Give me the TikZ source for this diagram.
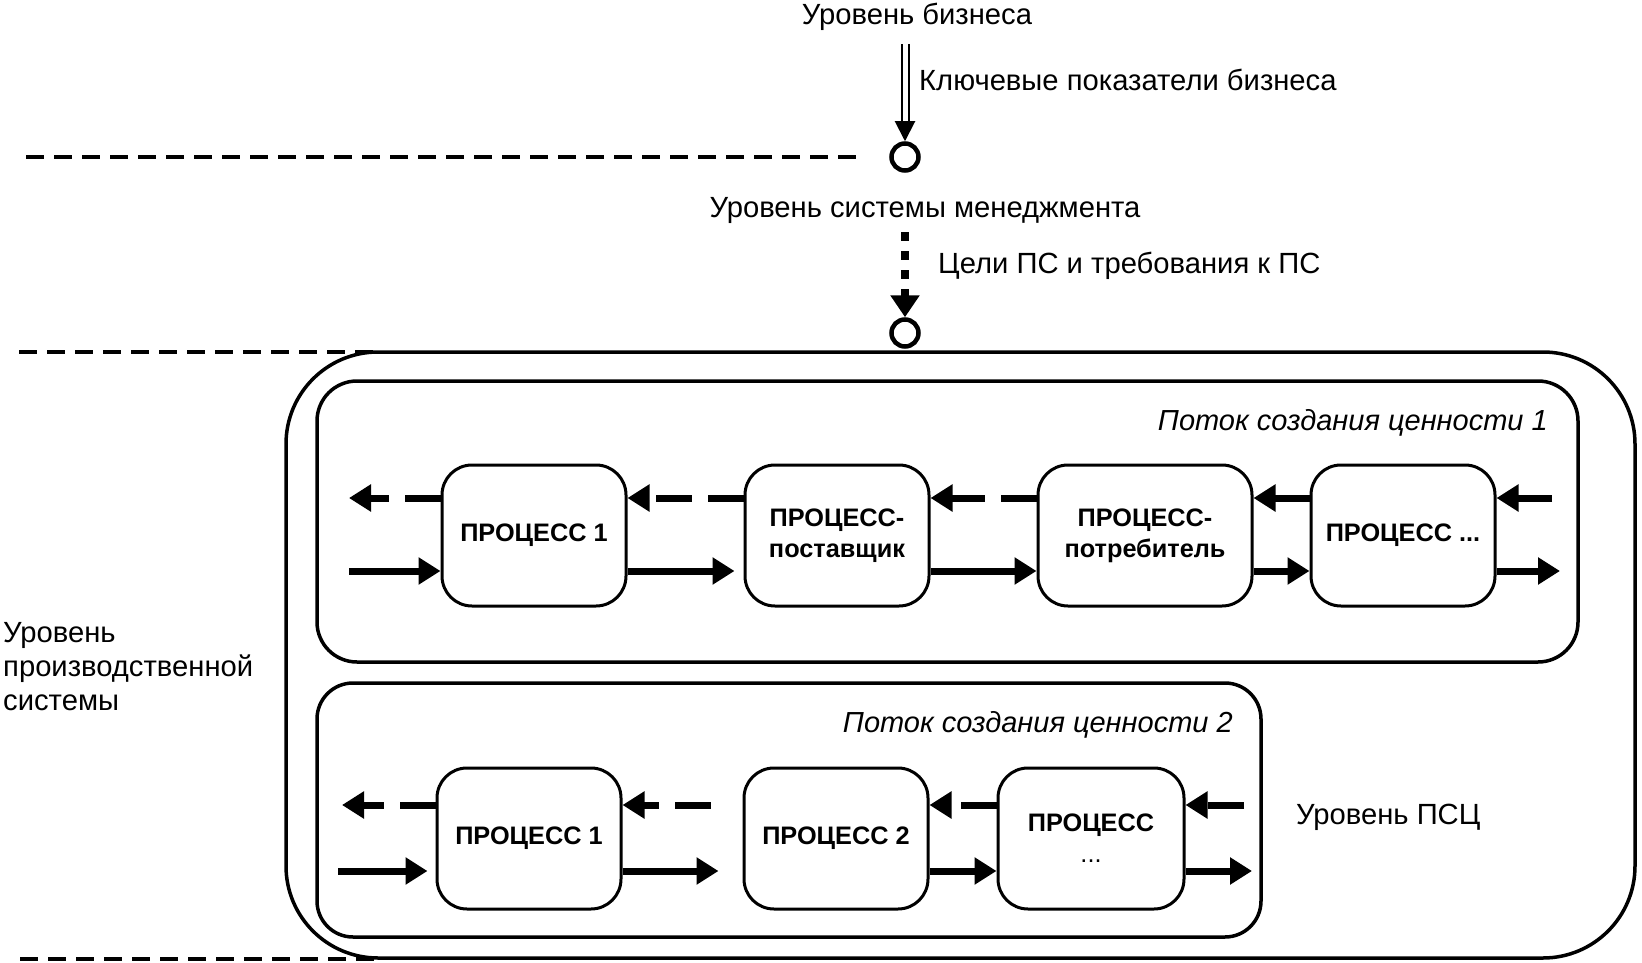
\documentclass[tikz,border=0pt]{standalone}
\usepackage{fontspec}
\setmainfont{Liberation Sans}
\usetikzlibrary{arrows.meta,calc}
\begin{document}
\begin{tikzpicture}[x=1pt,y=-1pt,
  lbl/.style={inner sep=0pt, font=\fontsize{29.2}{34}\selectfont},
  vsl/.style={inner sep=0pt, font=\fontsize{29}{34}\selectfont\itshape},
  proc/.style={draw, line width=3pt, rounded corners=30pt, minimum height=141pt, inner sep=0pt, align=center, font=\fontsize{25.3}{31}\selectfont\bfseries},
  frame/.style={draw, line width=3.5pt},
  levelsep/.style={line width=3.5pt, dash pattern=on 18pt off 10pt},
  mytip/.style={-{Triangle[length=22pt,width=26pt]}},
  flow/.style={line width=7pt, mytip},
  backflow/.style={line width=7pt, dash pattern=on 36pt off 16pt, mytip},
  ring/.style={circle, draw, line width=4.5pt, minimum size=27pt, inner sep=0pt}
]
\useasboundingbox (0,0) rectangle (1642,963);

% texts
\node[lbl] (biz) at (917,17) {Уровень бизнеса};
\node[lbl, anchor=west] (kpi) at (919,80) {Ключевые показатели бизнеса};
\node[lbl] (ms) at (925,210) {Уровень системы менеджмента};
\node[lbl, anchor=west] (goals) at (938,266) {Цели ПС и требования к ПС};
\node[lbl, anchor=west, align=left] (ps) at (3,667) {Уровень\\производственной\\системы};
\node[lbl, anchor=west] (psc) at (1296,817) {Уровень ПСЦ};

% circles
\node[ring] (c1) at (905,157) {};
\node[ring] (c2) at (905,333) {};

% level separators
\draw[levelsep] (26,157) -- (857,157);
\draw[levelsep] (19,352) -- (378,352);
\draw[levelsep] (20,959) -- (378,959);

% frames
\draw[frame, rounded corners=92pt] (286,352) rectangle (1635,958);
\draw[frame, rounded corners=40pt] (317,381) rectangle (1578,662);
\draw[frame, rounded corners=36pt] (317,683) rectangle (1261,937);

\node[vsl, anchor=east] (vs1) at (1548,423) {Поток создания ценности 1};
\node[vsl, anchor=east] (vs2) at (1233,725) {Поток создания ценности 2};

% vertical connectors
\coordinate (a1) at (905,44);
\coordinate (a2) at (905,232);
\draw[double, double distance=5pt, line width=2pt, -{Triangle[length=20pt,width=20pt]}] (a1) -- (c1);
\draw[line width=8pt, dash pattern=on 9pt off 10pt, -{Triangle[length=22pt,width=28pt]}] (a2) -- (c2);

% row 1
\node[proc, minimum width=184pt] (p11) at (534,535.5) {ПРОЦЕСС 1};
\node[proc, minimum width=184pt] (p12) at (837,535.5) {ПРОЦЕСС-\\поставщик};
\node[proc, minimum width=214pt] (p13) at (1145,535.5) {ПРОЦЕСС-\\потребитель};
\node[proc, minimum width=184pt] (p14) at (1403,535.5) {ПРОЦЕСС ...};

% row 2
\node[proc, minimum width=184pt] (p21) at (529,838.5) {ПРОЦЕСС 1};
\node[proc, minimum width=184pt] (p22) at (836,838.5) {ПРОЦЕСС 2};
\node[proc, minimum width=186pt] (p23) at (1091,838.5) {ПРОЦЕСС\\{\mdseries ...}};

\coordinate (r1d) at (0,498);
\coordinate (r1s) at (0,571);
\coordinate (r2d) at (0,805);
\coordinate (r2s) at (0,871);
\coordinate (r1dL) at (349,498);
\coordinate (r1dR) at (1552,498);
\coordinate (r1sL) at (349,571);
\coordinate (r1sR) at (1560,571);
\coordinate (r2dL) at (342,805);
\coordinate (r2dR) at (1244,805);
\coordinate (r2sL) at (338,871);
\coordinate (r2sR) at (1252,871);

% row 1 arrows
\draw[backflow] (p11.west |- r1d) -- (r1dL);
\draw[backflow] (p12.west |- r1d) -- (p11.east |- r1d);
\draw[backflow] (p13.west |- r1d) -- (p12.east |- r1d);
\draw[backflow] (p14.west |- r1d) -- (p13.east |- r1d);
\draw[backflow] (r1dR) -- (p14.east |- r1d);
\draw[flow] (r1sL) -- (p11.west |- r1s);
\draw[flow, shorten >=9pt] (p11.east |- r1s) -- (p12.west |- r1s);
\draw[flow] (p12.east |- r1s) -- (p13.west |- r1s);
\draw[flow] (p13.east |- r1s) -- (p14.west |- r1s);
\draw[flow] (p14.east |- r1s) -- (r1sR);

% row 2 arrows
\draw[backflow] (p21.west |- r2d) -- (r2dL);
\draw[backflow, shorten <=32pt] (p22.west |- r2d) -- (p21.east |- r2d);
\draw[backflow] (p23.west |- r2d) -- (p22.east |- r2d);
\draw[backflow] (r2dR) -- (p23.east |- r2d);
\draw[flow, shorten >=8pt] (r2sL) -- (p21.west |- r2s);
\draw[flow, shorten >=24pt] (p21.east |- r2s) -- (p22.west |- r2s);
\draw[flow] (p22.east |- r2s) -- (p23.west |- r2s);
\draw[flow] (p23.east |- r2s) -- (r2sR);
\end{tikzpicture}
\end{document}
